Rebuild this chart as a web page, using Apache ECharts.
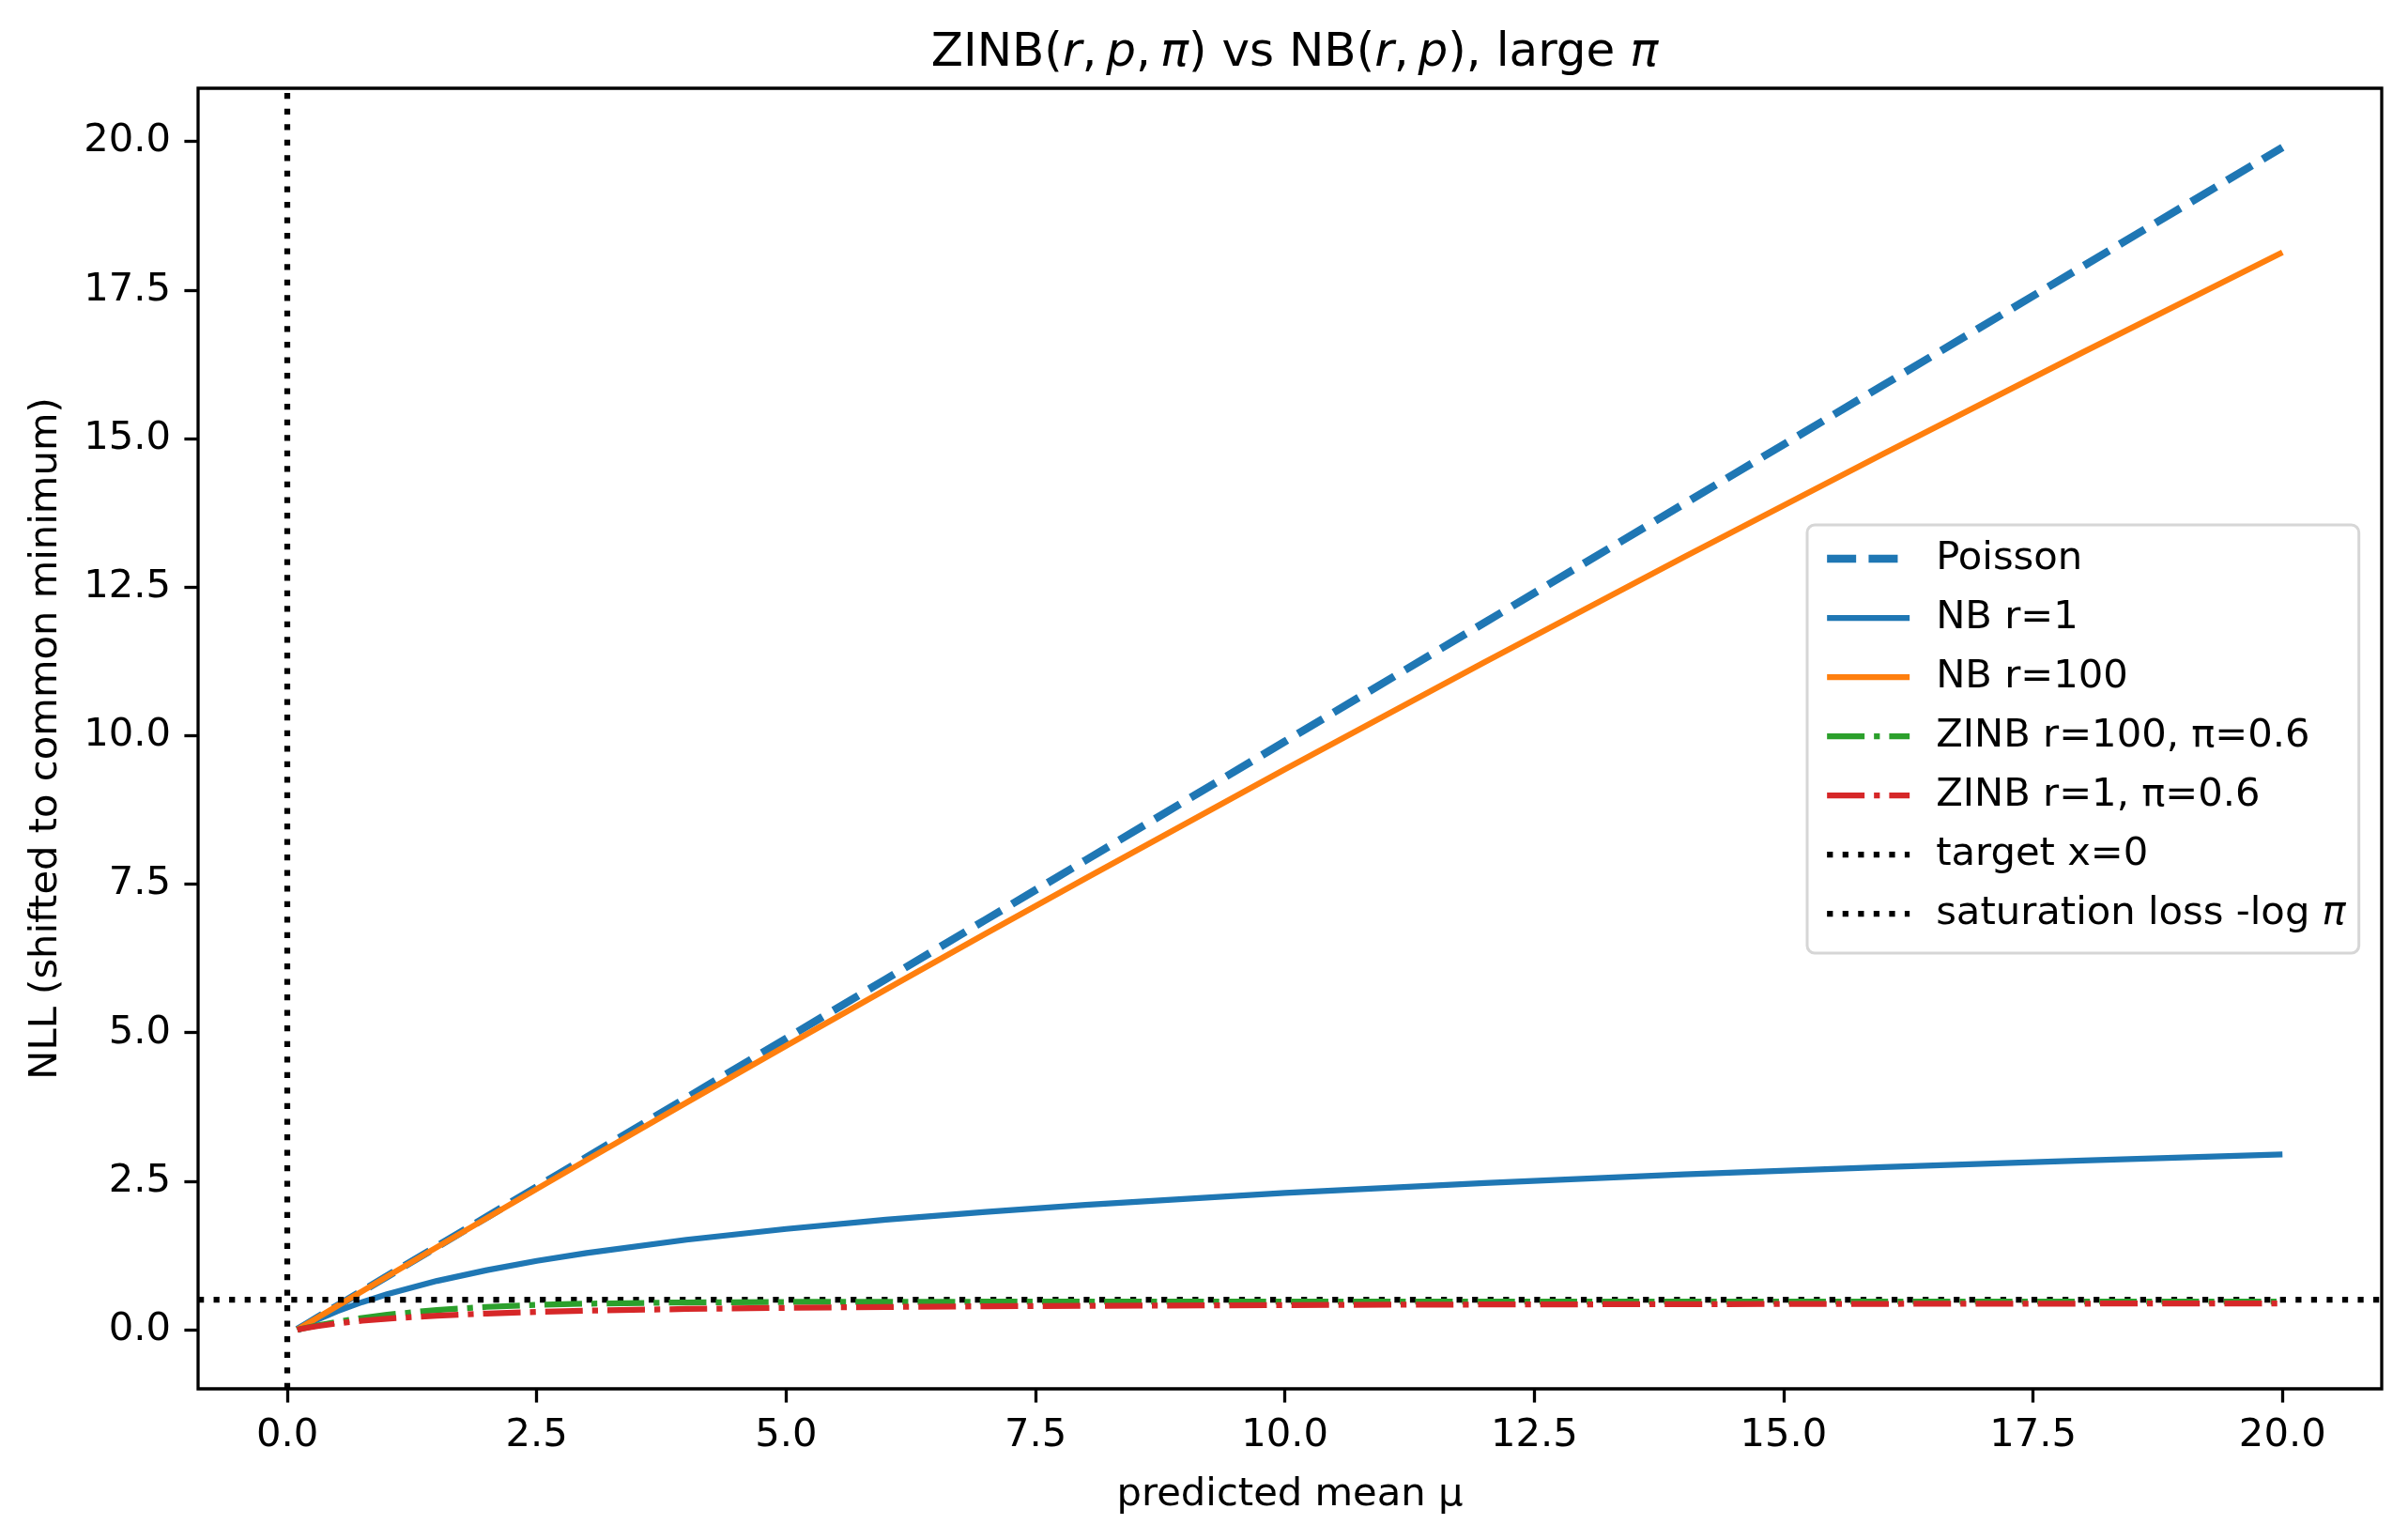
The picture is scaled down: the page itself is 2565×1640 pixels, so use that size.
<!DOCTYPE html>
<html>
<head>
<meta charset="utf-8">
<script src="https://cdn.jsdelivr.net/npm/echarts@6/dist/echarts.min.js"></script>
<style>
html,body{margin:0;padding:0;background:#fff;}
#chart{width:2565px;height:1640px;}
</style>
</head>
<body>
<div id="chart"></div>
<script>
// ---- data ----
const mu = [0.1, 0.2, 0.3, 0.5, 0.75, 1, 1.5, 2, 2.5, 3, 4, 5, 6, 7, 8, 10, 12, 14, 16, 18, 20];
const poisson = [0, 0.1, 0.2, 0.4, 0.65, 0.9, 1.4, 1.9, 2.4, 2.9, 3.9, 4.9, 5.9, 6.9, 7.9, 9.9, 11.9, 13.9, 15.9, 17.9, 19.9];
const nbR1 = [0, 0.087, 0.167, 0.310, 0.464, 0.598, 0.821, 1.003, 1.158, 1.291, 1.514, 1.696, 1.851, 1.984, 2.102, 2.303, 2.470, 2.613, 2.738, 2.849, 2.949];
const nbR100 = [0, 0.100, 0.200, 0.399, 0.647, 0.895, 1.389, 1.880, 2.369, 2.856, 3.822, 4.779, 5.727, 6.666, 7.596, 9.431, 11.233, 13.003, 14.742, 16.452, 18.132];
const zinbR100 = [0, 0.036, 0.071, 0.132, 0.198, 0.252, 0.332, 0.384, 0.417, 0.438, 0.459, 0.467, 0.470, 0.471, 0.472, 0.472, 0.472, 0.472, 0.472, 0.472, 0.472];
const zinbR1 = [0, 0.032, 0.060, 0.106, 0.151, 0.186, 0.237, 0.273, 0.299, 0.320, 0.349, 0.368, 0.383, 0.394, 0.402, 0.415, 0.424, 0.430, 0.435, 0.439, 0.443];
const targetX = 0;
const saturationLoss = 0.5108; // -log(0.6)
const xTicks = [0, 2.5, 5, 7.5, 10, 12.5, 15, 17.5, 20];
const yTicks = [0, 2.5, 5, 7.5, 10, 12.5, 15, 17.5, 20];
const seriesNames = ['Poisson', 'NB r=1', 'NB r=100', 'ZINB r=100, π=0.6', 'ZINB r=1, π=0.6', 'target x=0', 'saturation loss -log π'];

// ---- chart ----
const FONT = 'DejaVu Sans';
const FS = 41.7;
const pts = arr => mu.map((m, i) => [m, arr[i]]);
const DOT = [6.25, 10.3];
const DASHDOT = [40, 10, 6.25, 10];
const DASH = [31, 13.3];
const BLUE = '#1f77b4', ORANGE = '#ff7f0e', GREEN = '#2ca02c', RED = '#d62728';

const styles = [
  {color: BLUE, width: 8.3, type: DASH},
  {color: BLUE, width: 6.25, type: 'solid'},
  {color: ORANGE, width: 6.25, type: 'solid'},
  {color: GREEN, width: 6.25, type: DASHDOT},
  {color: RED, width: 6.25, type: DASHDOT},
  {color: '#000', width: 6.25, type: DOT},
  {color: '#000', width: 6.25, type: DOT}
];

const chart = echarts.init(document.getElementById('chart'), null, {renderer: 'canvas'});
const axisCommon = {
  type: 'value',
  splitLine: {show: false},
  axisLine: {show: false, onZero: false},
  axisTick: {show: true, inside: false, length: 14.6, lineStyle: {color: '#000', width: 3.3}},
  axisLabel: {show: true, margin: 29, color: '#000', fontFamily: FONT, fontSize: FS, formatter: v => v.toFixed(1)},
  nameTextStyle: {color: '#000', fontFamily: FONT, fontSize: FS},
  nameLocation: 'middle'
};

const series = seriesNames.map((name, i) => {
  const st = styles[i];
  return {
    name, type: 'line', showSymbol: false, symbol: 'none', color: st.color, z: 2 + i,
    data: [],
    lineStyle: {color: st.color, width: st.width, type: st.type, cap: 'butt'},
    emphasis: {disabled: true}
  };
});
series[0].data = pts(poisson);
series[1].data = pts(nbR1);
series[2].data = pts(nbR100);
series[3].data = pts(zinbR100);
series[4].data = pts(zinbR1);
const ml = d => ({silent: true, symbol: ['none', 'none'], label: {show: false}, animation: false,
  lineStyle: {color: '#000', width: 6.25, type: DOT, cap: 'butt'}, emphasis: {disabled: true}, data: [d]});
series[5].markLine = ml({xAxis: targetX});
series[6].markLine = ml({yAxis: saturationLoss});

const TS = '\u2009';
chart.setOption({
  animation: false,
  backgroundColor: '#fff',
  title: {
    text: '{n|ZINB(}{i|r}{n|,' + TS + '}{i|p}{n|,' + TS + '}{i|π}{n|) vs NB(}{i|r}{n|,' + TS + '}{i|p}{n|), large }{i|π}',
    left: 1374, top: 27, textAlign: 'center',
    textStyle: {
      fontWeight: 'normal',
      rich: {
        n: {fontFamily: FONT, fontSize: 50, color: '#000', fontWeight: 'normal'},
        i: {fontFamily: FONT, fontSize: 50, color: '#000', fontStyle: 'italic', fontWeight: 'normal'}
      }
    }
  },
  grid: {left: 211, top: 94, right: 28, bottom: 161, show: true, borderColor: '#000', borderWidth: 3.3, backgroundColor: 'transparent'},
  xAxis: Object.assign({}, axisCommon, {
    min: -0.895, max: 20.995,
    name: 'predicted mean μ', nameGap: 92,
    axisTick: Object.assign({}, axisCommon.axisTick, {customValues: xTicks}),
    axisLabel: Object.assign({}, axisCommon.axisLabel, {customValues: xTicks})
  }),
  yAxis: Object.assign({}, axisCommon, {
    min: -0.995, max: 20.895,
    name: 'NLL (shifted to common minimum)', nameGap: 141,
    axisTick: Object.assign({}, axisCommon.axisTick, {customValues: yTicks}),
    axisLabel: Object.assign({}, axisCommon.axisLabel, {customValues: yTicks})
  }),
  legend: {
    orient: 'vertical',
    left: 1925, top: 559,
    padding: [15, 14, 21, 17],
    backgroundColor: '#fff',
    borderColor: '#d6d6d6', borderWidth: 3, borderRadius: 8,
    itemWidth: 88, itemHeight: 14, itemGap: 21,
    data: seriesNames.map((name, i) => ({
      name,
      itemStyle: {opacity: 0},
      lineStyle: {color: styles[i].color, width: styles[i].width, type: styles[i].type, cap: 'butt'}
    })),
    formatter: name => name === 'saturation loss -log π' ? '{t|saturation loss -log }{i|π}' : '{t|' + name + '}',
    textStyle: {
      color: '#000', fontFamily: FONT, fontSize: FS, lineHeight: 42, padding: [0, 0, 0, 23],
      rich: {
        t: {fontFamily: FONT, fontSize: FS, color: '#000'},
        i: {fontFamily: FONT, fontSize: FS, color: '#000', fontStyle: 'italic'}
      }
    }
  },
  series
});
</script>
</body>
</html>
